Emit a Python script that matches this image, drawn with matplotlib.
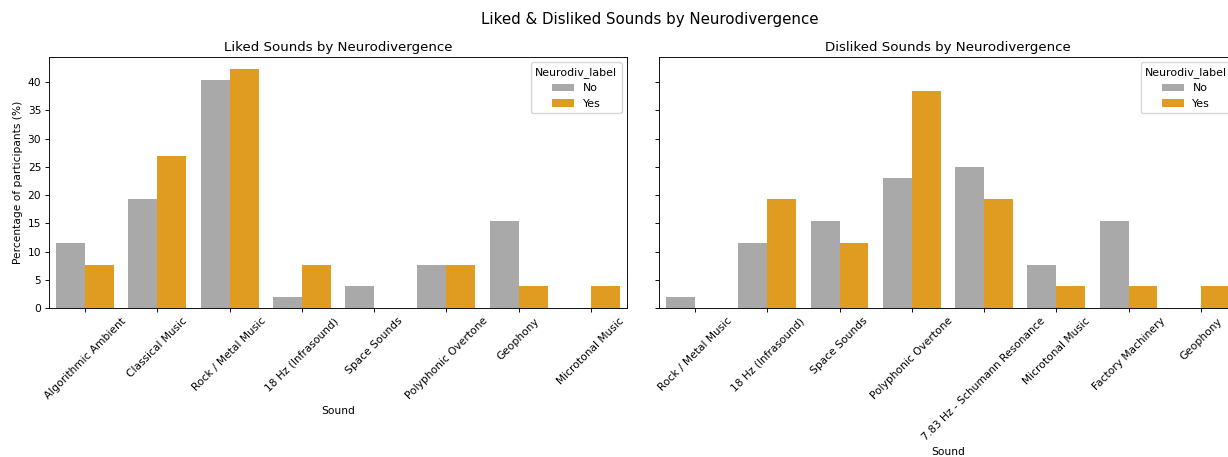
import matplotlib

matplotlib.use("Agg")
import matplotlib.pyplot as plt
import pandas as pd
import seaborn as sns

# percentage of participants per sound, split by neurodivergence
LIKED_SOUNDS = [
    "Algorithmic Ambient",
    "Classical Music",
    "Rock / Metal Music",
    "18 Hz (Infrasound)",
    "Space Sounds",
    "Polyphonic Overtone",
    "Geophony",
    "Microtonal Music",
]
LIKED_NO = [11.54, 19.23, 40.38, 1.92, 3.85, 7.69, 15.38, 0.0]
LIKED_YES = [7.69, 26.92, 42.31, 7.69, 0.0, 7.69, 3.85, 3.85]

DISLIKED_SOUNDS = [
    "Rock / Metal Music",
    "18 Hz (Infrasound)",
    "Space Sounds",
    "Polyphonic Overtone",
    "7.83 Hz - Schumann Resonance",
    "Microtonal Music",
    "Factory Machinery",
    "Geophony",
]
DISLIKED_NO = [1.92, 11.54, 15.38, 23.08, 25.0, 7.69, 15.38, 0.0]
DISLIKED_YES = [0.0, 19.23, 11.54, 38.46, 19.23, 3.85, 3.85, 3.85]

PALETTE = {"No": "darkgray", "Yes": "orange"}


def long_frame(sounds, no_vals, yes_vals):
    rows = []
    for sound, n, y in zip(sounds, no_vals, yes_vals):
        rows.append({"Sound": sound, "Neurodiv_label": "No", "pct": n})
        rows.append({"Sound": sound, "Neurodiv_label": "Yes", "pct": y})
    return pd.DataFrame(rows)


liked = long_frame(LIKED_SOUNDS, LIKED_NO, LIKED_YES)
disliked = long_frame(DISLIKED_SOUNDS, DISLIKED_NO, DISLIKED_YES)

plt.rcParams.update(
    {
        "font.size": 7.7,
        "axes.titlesize": 9.6,
        "axes.labelsize": 7.7,
        "xtick.labelsize": 7.7,
        "ytick.labelsize": 7.7,
        "legend.fontsize": 7.9,
        "legend.title_fontsize": 7.9,
        "axes.linewidth": 0.65,
        "xtick.major.width": 0.65,
        "ytick.major.width": 0.65,
        "xtick.major.size": 2.8,
        "ytick.major.size": 2.8,
        "xtick.major.pad": 2.8,
        "ytick.major.pad": 2.8,
        "axes.titlepad": 4.2,
        "axes.labelpad": 3.3,
    }
)

fig = plt.figure(figsize=(12.28, 4.57), dpi=100)
ax1 = fig.add_axes([0.0399, 0.326, 0.4707, 0.5493])
ax2 = fig.add_axes([0.5366, 0.326, 0.4707, 0.5493], sharey=ax1)

for ax, data, order, title in [
    (ax1, liked, LIKED_SOUNDS, "Liked Sounds by Neurodivergence"),
    (ax2, disliked, DISLIKED_SOUNDS, "Disliked Sounds by Neurodivergence"),
]:
    sns.barplot(
        data=data,
        x="Sound",
        y="pct",
        hue="Neurodiv_label",
        order=order,
        hue_order=["No", "Yes"],
        palette=PALETTE,
        ax=ax,
    )
    ax.set_title(title)
    ax.set_xlabel("Sound")
    ax.tick_params(axis="x", labelrotation=45)
    ax.legend(title="Neurodiv_label", loc="upper right")

ax1.set_ylabel("Percentage of participants (%)")
ax2.set_ylabel("")
ax2.tick_params(axis="y", labelleft=False)

fig.suptitle("Liked & Disliked Sounds by Neurodivergence", x=650 / 1228, y=0.973, fontsize=10.8)
fig.savefig("out.png", dpi=100)
